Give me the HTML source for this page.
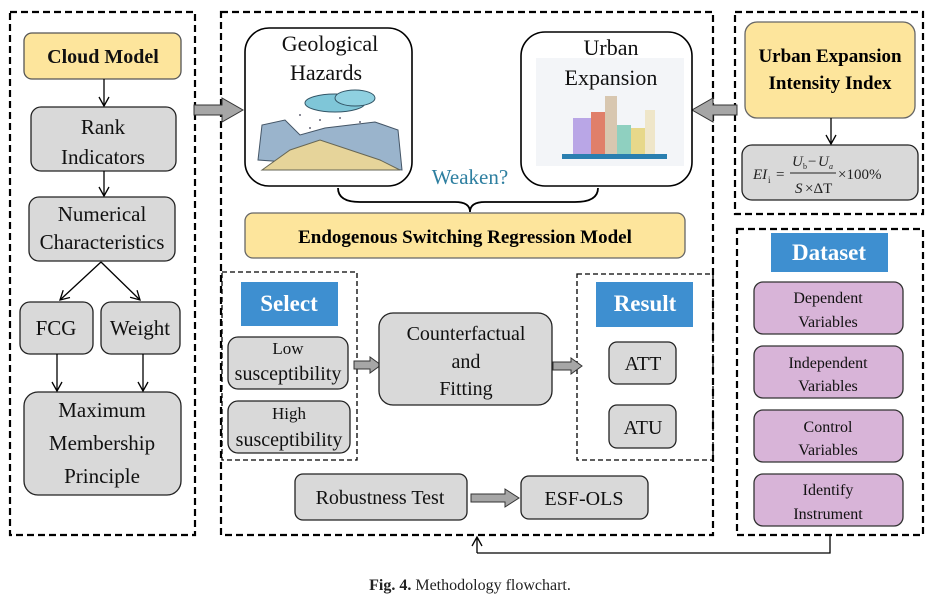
<!DOCTYPE html>
<html><head><meta charset="utf-8"><style>
body{margin:0;background:#fff}
svg text{font-family:"Liberation Serif",serif}
</style></head><body>
<svg width="938" height="600" viewBox="0 0 938 600" xmlns="http://www.w3.org/2000/svg">
<defs>
<marker id="ar" markerWidth="12" markerHeight="12" refX="10" refY="6" orient="auto" markerUnits="userSpaceOnUse"><path d="M1,1 L10,6 L1,11" fill="none" stroke="#000" stroke-width="1.3"/></marker>
</defs>
<g fill="none" stroke="#000" stroke-width="2.2" stroke-dasharray="7,4">
<rect x="10" y="12" width="185" height="523"/>
<rect x="221" y="12" width="492" height="523"/>
<rect x="735" y="12" width="188" height="202"/>
<rect x="737" y="229" width="186" height="306"/>
</g>
<g fill="none" stroke="#000" stroke-width="1.3" stroke-dasharray="5,3">
<rect x="222" y="272" width="135" height="188"/>
<rect x="577" y="274" width="136" height="186"/>
</g>
<g stroke="#555" stroke-width="1.3">
<rect x="24" y="33" width="157" height="46" rx="8" fill="#fde59c"/>
<rect x="31" y="107" width="145" height="64" rx="10" fill="#d9d9d9" stroke="#222"/>
<rect x="29" y="197" width="146" height="64" rx="10" fill="#d9d9d9" stroke="#222"/>
<rect x="20" y="302" width="73" height="52" rx="10" fill="#d9d9d9" stroke="#222"/>
<rect x="101" y="302" width="79" height="52" rx="10" fill="#d9d9d9" stroke="#222"/>
<rect x="24" y="392" width="157" height="103" rx="14" fill="#d9d9d9" stroke="#222"/>
</g>
<g stroke="#000" stroke-width="1.3" fill="none" marker-end="url(#ar)">
<line x1="104" y1="79" x2="104" y2="106"/>
<line x1="104" y1="171" x2="104" y2="196"/>
<line x1="101" y1="262" x2="60" y2="300"/>
<line x1="101" y1="262" x2="140" y2="300"/>
<line x1="57" y1="354" x2="57" y2="391"/>
<line x1="143" y1="354" x2="143" y2="391"/>
<line x1="477" y1="553" x2="477" y2="537"/>
</g>
<polyline points="477,553 830,553 830,535" fill="none" stroke="#000" stroke-width="1.3"/>
<g font-size="21" text-anchor="middle" fill="#111">
<text x="103" y="63" font-weight="bold" font-size="20">Cloud Model</text>
<text x="103" y="134">Rank</text><text x="103" y="164">Indicators</text>
<text x="102" y="221">Numerical</text><text x="102" y="249">Characteristics</text>
<text x="56" y="335">FCG</text><text x="140" y="335">Weight</text>
<text x="102" y="417">Maximum</text><text x="102" y="450">Membership</text><text x="102" y="483">Principle</text>
</g>
<path d="M194,105 L222,105 L222,98 L243,110 L222,122 L222,115 L194,115Z" fill="#a6a6a6" stroke="#333"/>
<path d="M737,105 L713,105 L713,98 L692,110 L713,122 L713,115 L737,115Z" fill="#a6a6a6" stroke="#333"/>
<path d="M354,361 L370,361 L370,357 L381,365 L370,373 L370,369 L354,369Z" fill="#a6a6a6" stroke="#333"/>
<path d="M553,362 L571,362 L571,358 L582,366 L571,374 L571,370 L553,370Z" fill="#a6a6a6" stroke="#333"/>
<path d="M471,494 L505,494 L505,489 L519,498 L505,507 L505,502 L471,502Z" fill="#a6a6a6" stroke="#333"/>
<rect x="245" y="28" width="167" height="158" rx="24" fill="#fff" stroke="#000" stroke-width="1.6"/>
<rect x="521" y="32" width="171" height="154" rx="24" fill="#fff" stroke="#000" stroke-width="1.6"/>
<!-- hazard illustration -->
<ellipse cx="335" cy="103" rx="30" ry="9" fill="#7fc6d8" stroke="#356"/>
<ellipse cx="355" cy="98" rx="20" ry="8" fill="#8fd0e0" stroke="#356"/>
<g fill="#667"><circle cx="300" cy="115" r="1"/><circle cx="320" cy="120" r="1"/><circle cx="340" cy="118" r="1"/><circle cx="360" cy="122" r="1"/><circle cx="310" cy="128" r="1"/><circle cx="350" cy="130" r="1"/></g>
<path d="M258,160 L262,125 L285,120 L300,135 L325,128 L350,125 L375,122 L398,130 L402,170 Z" fill="#9ab4cc" stroke="#456"/>
<path d="M262,170 L290,150 L320,140 L350,150 L380,160 L400,170 Z" fill="#e6d49a" stroke="#665"/>
<!-- city illustration -->
<rect x="536" y="58" width="148" height="108" fill="#f3f5f8"/>
<rect x="573" y="118" width="18" height="38" fill="#b9a6e6"/>
<rect x="591" y="112" width="14" height="44" fill="#e07f6a"/>
<rect x="605" y="96" width="12" height="60" fill="#d8c7b0"/>
<rect x="617" y="125" width="14" height="31" fill="#8fd0c0"/>
<rect x="631" y="128" width="14" height="28" fill="#e7d88a"/>
<rect x="645" y="110" width="10" height="46" fill="#efe6c9"/>
<rect x="562" y="154" width="105" height="5" fill="#2a7fb0"/>
<g font-size="22" text-anchor="middle" fill="#111">
<text x="330" y="51">Geological</text><text x="326" y="80">Hazards</text>
<text x="611" y="55">Urban</text><text x="611" y="85">Expansion</text>
</g>
<path d="M338,188 Q338,202 360,202 L455,202 Q470,202 470,212 Q470,202 485,202 L575,202 Q598,202 598,188" fill="none" stroke="#000" stroke-width="1.8"/>
<text x="470" y="184" font-size="21" text-anchor="middle" fill="#2e7fa0">Weaken?</text>
<rect x="245" y="213" width="440" height="45" rx="8" fill="#fde59c" stroke="#666" stroke-width="1.3"/>
<text x="465" y="243" font-size="19" font-weight="bold" text-anchor="middle">Endogenous Switching Regression Model</text>
<rect x="241" y="282" width="97" height="44" fill="#3e8fd0"/>
<text x="289" y="311" font-size="23" font-weight="bold" fill="#fff" text-anchor="middle">Select</text>
<rect x="596" y="282" width="97" height="45" fill="#3e8fd0"/>
<text x="645" y="311" font-size="23" font-weight="bold" fill="#fff" text-anchor="middle">Result</text>
<g fill="#d9d9d9" stroke="#222" stroke-width="1.3">
<rect x="228" y="337" width="120" height="52" rx="10"/>
<rect x="228" y="401" width="122" height="52" rx="10"/>
<rect x="379" y="313" width="173" height="92" rx="14"/>
<rect x="609" y="342" width="67" height="42" rx="8"/>
<rect x="609" y="405" width="67" height="43" rx="8"/>
<rect x="295" y="474" width="172" height="46" rx="8"/>
<rect x="521" y="476" width="127" height="43" rx="8"/>
<rect x="742" y="145" width="176" height="55" rx="10"/>
</g>
<g font-size="20" text-anchor="middle" fill="#111">
<text x="288" y="354" font-size="17">Low</text><text x="288" y="380">susceptibility</text>
<text x="289" y="419" font-size="17">High</text><text x="289" y="446">susceptibility</text>
<text x="466" y="340">Counterfactual</text><text x="466" y="368">and</text><text x="466" y="395">Fitting</text>
<text x="643" y="370">ATT</text><text x="643" y="434">ATU</text>
<text x="380" y="504">Robustness Test</text>
<text x="584" y="505">ESF-OLS</text>
</g>
<rect x="745" y="22" width="170" height="96" rx="12" fill="#fde59c" stroke="#666" stroke-width="1.3"/>
<text x="830" y="62" font-size="19" font-weight="bold" text-anchor="middle">Urban Expansion</text>
<text x="830" y="89" font-size="19" font-weight="bold" text-anchor="middle">Intensity Index</text>
<line x1="831" y1="118" x2="831" y2="144" stroke="#000" stroke-width="1.3" marker-end="url(#ar)"/>
<g font-size="15" font-style="italic" fill="#222">
<text x="753" y="179">EI</text><text x="768" y="183" font-size="9" font-style="normal">i</text>
<text x="776" y="179" font-style="normal">=</text>
<text x="792" y="166">U</text><text x="803" y="169" font-size="8" font-style="normal">b</text>
<text x="808" y="166" font-style="normal">−</text><text x="818" y="166">U</text><text x="829" y="169" font-size="8">a</text>
<text x="795" y="193">S</text><text x="805" y="193" font-style="normal">×ΔT</text>
<text x="838" y="179" font-style="normal">×100%</text>
</g>
<line x1="790" y1="173" x2="836" y2="173" stroke="#222" stroke-width="0.9"/>
<rect x="771" y="233" width="117" height="39" fill="#3e8fd0"/>
<text x="829" y="260" font-size="23" font-weight="bold" fill="#fff" text-anchor="middle">Dataset</text>
<g fill="#d8b4d8" stroke="#333" stroke-width="1.3">
<rect x="754" y="282" width="149" height="52" rx="9"/>
<rect x="754" y="346" width="149" height="52" rx="9"/>
<rect x="754" y="410" width="149" height="52" rx="9"/>
<rect x="754" y="474" width="149" height="52" rx="9"/>
</g>
<g font-size="16" text-anchor="middle" fill="#111">
<text x="828" y="303">Dependent</text><text x="828" y="327">Variables</text>
<text x="828" y="368">Independent</text><text x="828" y="391">Variables</text>
<text x="828" y="432">Control</text><text x="828" y="455">Variables</text>
<text x="828" y="495">Identify</text><text x="828" y="519">Instrument</text>
</g>
<text x="470" y="590" font-size="16" text-anchor="middle" fill="#222"><tspan font-weight="bold">Fig. 4.</tspan>  Methodology flowchart.</text>
</svg>
</body></html>
